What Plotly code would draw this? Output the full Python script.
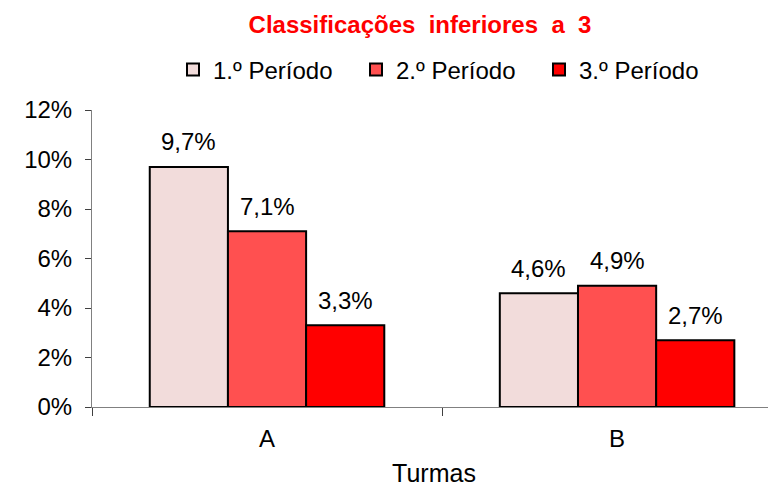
import plotly.graph_objects as go

turmas = ["A", "B"]
series_names = ["1.º Período", "2.º Período", "3.º Período"]
p1 = [0.097, 0.046]
p2 = [0.071, 0.049]
p3 = [0.033, 0.027]
colors = ["#F2DCDB", "#FF5050", "#FF0000"]

# page body has an 8px margin, so the figure is sized/offset accordingly
W, H = 768, 479
ML, MR, MT, MB = 84, 0, 102, 80
XR = [-0.5, 1.454]
BARGAP = 0.33

font = "Liberation Sans, Arial, sans-serif"
fig = go.Figure()
for name, vals, col in zip(series_names, [p1, p2, p3], colors):
    fig.add_trace(go.Bar(
        x=turmas, y=vals, name=name,
        marker=dict(color=col, line=dict(color="black", width=2)),
    ))

# data labels above bars (Portuguese decimal comma)
cat_px = (W - ML - MR) / (XR[1] - XR[0])
bar_px = (1 - BARGAP) * cat_px / 3
annots = []
for i, vals in enumerate([p1, p2, p3]):
    for cat, v in zip(turmas, vals):
        annots.append(dict(
            x=cat, y=v, xref="x", yref="y",
            text=f"{v * 100:.1f}%".replace(".", ","),
            showarrow=False, xshift=(i - 1) * bar_px, yshift=25,
            yanchor="middle", xanchor="center",
            font=dict(family=font, size=24, color="black"),
        ))

fig.update_layout(
    width=W, height=H,
    margin=dict(l=ML, r=MR, t=MT, b=MB, autoexpand=False),
    paper_bgcolor="white", plot_bgcolor="white",
    barmode="group", bargap=BARGAP, bargroupgap=0,
    font=dict(family=font, size=24, color="black"),
    title=dict(text="<b>Classificações\u00a0 inferiores\u00a0 a\u00a0 3</b>",
               font=dict(size=24, color="#FF0000"),
               x=412 / W, xanchor="center", yref="container", y=1 - 17 / H, yanchor="middle",
               automargin=False),
    legend=dict(orientation="h", xref="container", x=165 / W, xanchor="left",
                yref="container", y=1 - 62 / H,
                yanchor="middle", font=dict(size=24), itemwidth=30, traceorder="normal",
                entrywidth=138, entrywidthmode="pixels"),
    showlegend=True,
    annotations=annots,
)
fig.update_xaxes(
    type="category", range=XR, automargin=False,
    showline=True, linecolor="#808080", linewidth=1,
    ticks="outside", tickson="boundaries", ticklen=8, tickcolor="#404040",
    showgrid=False, ticklabelstandoff=10,
    title=dict(text="Turmas", font=dict(size=25), standoff=20),
    tickfont=dict(size=24),
)
fig.update_yaxes(
    range=[0, 0.12], dtick=0.02, tickformat=".0%", automargin=False,
    showline=True, linecolor="#808080", linewidth=1,
    ticks="outside", ticklen=6, tickcolor="#404040", ticklabelstandoff=8,
    showgrid=False, zeroline=False, tickfont=dict(size=24),
)

fig.write_html("out.html")
